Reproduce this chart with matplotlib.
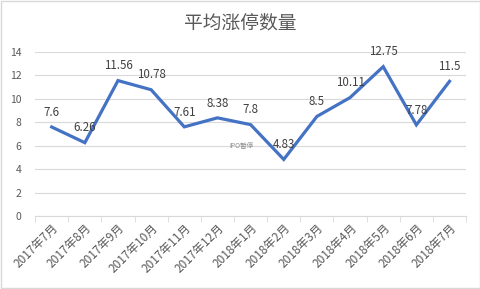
import matplotlib.pyplot as plt
import numpy as np

plt.rcParams['font.family'] = ['Noto Sans CJK SC', 'DejaVu Sans']

months = ['2017年7月', '2017年8月', '2017年9月', '2017年10月', '2017年11月',
          '2017年12月', '2018年1月', '2018年2月', '2018年3月', '2018年4月',
          '2018年5月', '2018年6月', '2018年7月']
avg_limit_up = [7.6, 6.26, 11.56, 10.78, 7.61, 8.38, 7.8, 4.83, 8.5, 10.11, 12.75, 7.78, 11.5]
value_labels = ['7.6', '6.26', '11.56', '10.78', '7.61', '8.38', '7.8', '4.83', '8.5',
                '10.11', '12.75', '7.78', '11.5']

fig = plt.figure(figsize=(4.81, 2.89), dpi=100)
ax = fig.add_axes([0.073, 0.2526, 0.896, 0.5674])

x = np.arange(len(months))
ax.plot(x, avg_limit_up, color='#4472C4', linewidth=2.3, solid_joinstyle='miter')

for xi, yi, lab in zip(x, avg_limit_up, value_labels):
    ax.annotate(lab, (xi, yi), xytext=(0, 6), textcoords='offset points',
                ha='center', va='bottom', fontsize=8.3, color='#404040')

# small note near the dip
ax.text(5.72, 5.95, 'IPO暂停', fontsize=4.8, color='#8c8c8c', ha='center', va='center')

ax.set_xlim(-0.5, len(months) - 0.5)
ax.set_ylim(0, 14)
ax.set_yticks(range(0, 15, 2))
ax.grid(axis='y', color='#d9d9d9', linewidth=0.8)
ax.set_axisbelow(True)

ax.set_xticks(x)
ax.set_xticklabels(months, rotation=45, ha='right', rotation_mode='anchor',
                   fontsize=8.5, color='#595959')
ax.set_xticks(np.arange(-0.5, len(months), 1), minor=True)
ax.tick_params(axis='x', which='major', length=0, pad=4)
ax.tick_params(axis='x', which='minor', length=4, color='#d9d9d9')
ax.tick_params(axis='y', length=0, labelsize=7.5, labelcolor='#595959', pad=10)

for side in ['top', 'right', 'left']:
    ax.spines[side].set_visible(False)
ax.spines['bottom'].set_color('#d9d9d9')

fig.text(0.5, 0.92, '平均涨停数量', ha='center', va='center', fontsize=13.5, color='#595959')

border = plt.Rectangle((0.002, 0.003), 0.995, 0.993, transform=fig.transFigure,
                       fill=False, edgecolor='#d9d9d9', linewidth=1)
fig.patches.append(border)

fig.savefig('out.png', dpi=100)
